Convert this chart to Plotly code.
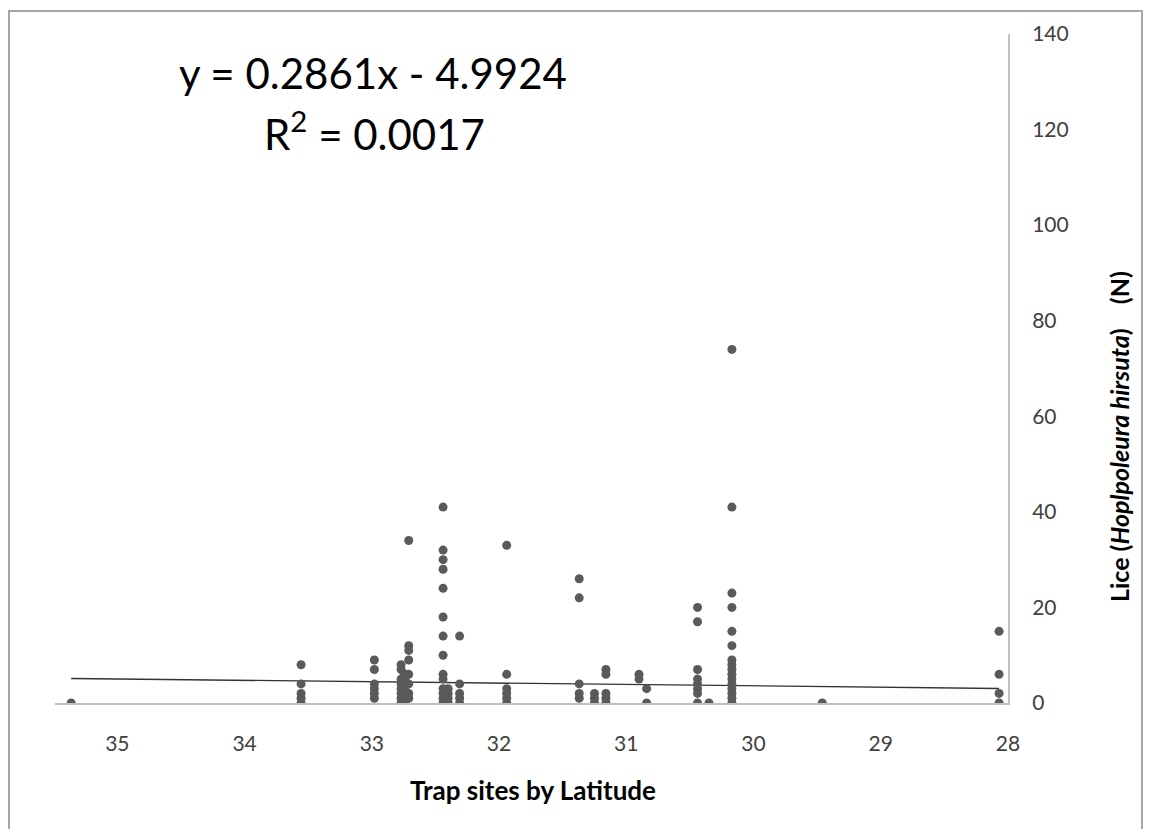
import plotly.graph_objects as go

# ---- data ----
lat_groups = [35.363, 33.556, 32.98, 32.77, 32.74, 32.71, 32.44, 32.40, 32.31, 31.94,
              31.37, 31.25, 31.16, 30.90, 30.84, 30.44, 30.35, 30.17, 29.46, 28.07]
lice_groups = [
    [0],
    [8, 4, 2, 1, 0],
    [9, 7, 4, 3, 2, 1],
    [8, 7, 5, 4, 3, 2, 1, 0],
    [6, 5, 3, 1, 0],
    [34, 12, 11, 9, 6, 4, 2, 1],
    [41, 32, 30, 28, 24, 18, 14, 10, 6, 5, 3, 2, 1, 0],
    [3, 2, 1, 0],
    [14, 4, 2, 1, 0],
    [33, 6, 3, 2, 1, 0],
    [26, 22, 4, 2, 1],
    [2, 1, 0],
    [7, 6, 2, 1, 0],
    [6, 5],
    [3, 0],
    [20, 17, 7, 5, 4, 3, 2, 0],
    [0],
    [74, 41, 23, 20, 15, 12, 9, 8, 7, 6, 5, 4, 3, 2, 1, 0],
    [0],
    [15, 6, 2, 0],
]
x_ticks = [35, 34, 33, 32, 31, 30, 29, 28]
y_ticks = [0, 20, 40, 60, 80, 100, 120, 140]
slope = 0.2861
intercept = -4.9924
eq_text = "y = 0.2861x - 4.9924"
r2_text = "R<sup>2</sup> = 0.0017"

lat = []
lice = []
for la, vals in zip(lat_groups, lice_groups):
    for v in vals:
        lat.append(la)
        lice.append(v)

trend_x = [min(lat), max(lat)]
trend_y = [slope * x + intercept for x in trend_x]

FONT = "Lato, 'Open Sans', sans-serif"

fig = go.Figure()
fig.add_trace(go.Scatter(x=trend_x, y=trend_y, mode="lines",
                         line=dict(color="#333333", width=1.3), showlegend=False,
                         hoverinfo="skip"))
fig.add_trace(go.Scatter(x=lat, y=lice, mode="markers",
                         marker=dict(color="#5a5a5a", size=9, line=dict(width=0)),
                         showlegend=False))

# page offset (body margin) compensation so the page fits the window exactly
OFF = 8
W, H = 1152 - 2 * OFF, 837 - 2 * OFF
# plot area in screen pixels
SX0, SX1, SY0, SY1 = 55, 1008, 34, 703
L, T = SX0 - OFF, SY0 - OFF
R = W - (SX1 - OFF)
B = H - (SY1 - OFF)
pw, ph = SX1 - SX0, SY1 - SY0

def px(xs):
    return (xs - SX0) / pw

def py(ys):
    return (SY1 - ys) / ph

fig.update_layout(
    width=W, height=H,
    margin=dict(l=L, r=R, t=T, b=B, autoexpand=False),
    paper_bgcolor="white", plot_bgcolor="white",
    font=dict(family=FONT, color="#404040"),
    xaxis=dict(range=[35.49, 28], tickvals=x_ticks, ticktext=[str(v) for v in x_ticks],
               showgrid=False, zeroline=False, showline=True, linecolor="#c0c0c0",
               linewidth=2, ticks="", ticklabelstandoff=21,
               tickfont=dict(size=21, color="#404040", family=FONT)),
    yaxis=dict(range=[0, 140], tickvals=y_ticks, side="right",
               showgrid=False, zeroline=False, showline=True, linecolor="#c0c0c0",
               linewidth=2, ticks="", ticklabelstandoff=18,
               tickfont=dict(size=21, color="#404040", family=FONT)),
    annotations=[
        dict(text=eq_text, xref="paper", yref="paper", x=px(373), y=py(73),
             showarrow=False, font=dict(size=42, color="#000000", family=FONT),
             xanchor="center", yanchor="middle"),
        dict(text=r2_text, xref="paper", yref="paper", x=px(374), y=py(131),
             showarrow=False, font=dict(size=42, color="#000000", family=FONT),
             xanchor="center", yanchor="middle"),
        dict(text="<b>Trap sites by Latitude</b>", xref="paper", yref="paper",
             x=px(533), y=py(790), showarrow=False,
             font=dict(size=26, color="#000000", family=FONT),
             xanchor="center", yanchor="middle"),
        dict(text="<b>Lice (<i>Hoplpoleura hirsuta</i>)\u00a0\u00a0\u00a0\u00a0(N)</b>",
             xref="paper", yref="paper", x=px(1119), y=py(437), textangle=-90,
             showarrow=False, font=dict(size=25, color="#000000", family=FONT),
             xanchor="center", yanchor="middle"),
    ],
    shapes=[
        dict(type="rect", xref="paper", yref="paper",
             x0=px(9), x1=px(1142), y0=py(834), y1=py(11),
             line=dict(color="#a6a6a6", width=2), fillcolor="rgba(0,0,0,0)", layer="below"),
    ],
)

fig.write_html("out.html")
